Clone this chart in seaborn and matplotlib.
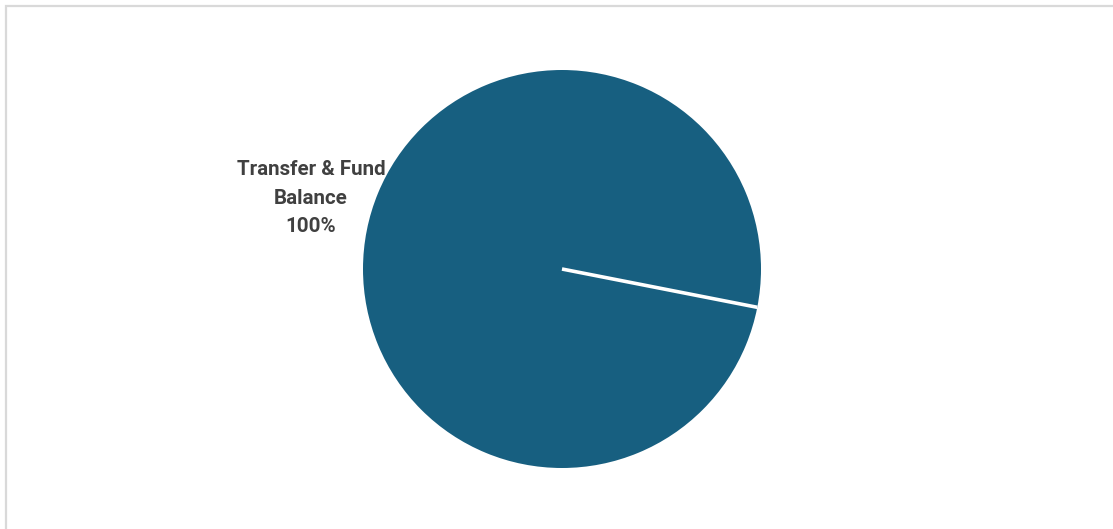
import textwrap
import numpy as np
import matplotlib
matplotlib.use("Agg")
import matplotlib.pyplot as plt
from matplotlib.patches import Rectangle
import seaborn as sns

# Expenditure breakdown
categories = ["Transfer & Fund Balance"]
values = [100.0]
slice_colors = ["#175F80"]

sns.set_theme(style="white")
plt.rcParams["font.family"] = ["Roboto", "DejaVu Sans"]

W, H = 1113, 529
fig = plt.figure(figsize=(W / 100, H / 100), dpi=100)
fig.patch.set_facecolor("white")

# Thin chart-area frame (open at right and bottom, as clipped)
fig.patches.append(Rectangle((5.5 / W, -0.1), 1.2, 1.1 - 6.5 / H,
                             transform=fig.transFigure, fill=False,
                             edgecolor="#D9D9D9", linewidth=1.6))

ax = fig.add_axes([0, 0, 1, 1])

palette = sns.color_palette(slice_colors)
cx, cy, r = 562, H - 269, 199
wedges, _ = ax.pie(values, colors=palette, center=(cx, cy), radius=r,
                   startangle=-11.1, counterclock=True,
                   wedgeprops=dict(linewidth=0))

# White separator where each slice starts
for w in wedges:
    t = np.deg2rad(w.theta1)
    ax.plot([cx, cx + r * np.cos(t)], [cy, cy + r * np.sin(t)],
            color="white", linewidth=2.6, solid_capstyle="butt")

ax.set_xlim(0, W)
ax.set_ylim(0, H)
ax.set_aspect("auto")
ax.set_axis_off()

total = sum(values)
for cat, v in zip(categories, values):
    label = "\n".join(textwrap.wrap(cat, 15)) + f"\n{v / total * 100:.0f}%"
    ax.text(311, H - 198, label, ha="center", va="center",
            fontsize=14.8, fontweight="bold", color="#404040",
            linespacing=1.62)

fig.savefig("out.png", dpi=100, facecolor="white")
